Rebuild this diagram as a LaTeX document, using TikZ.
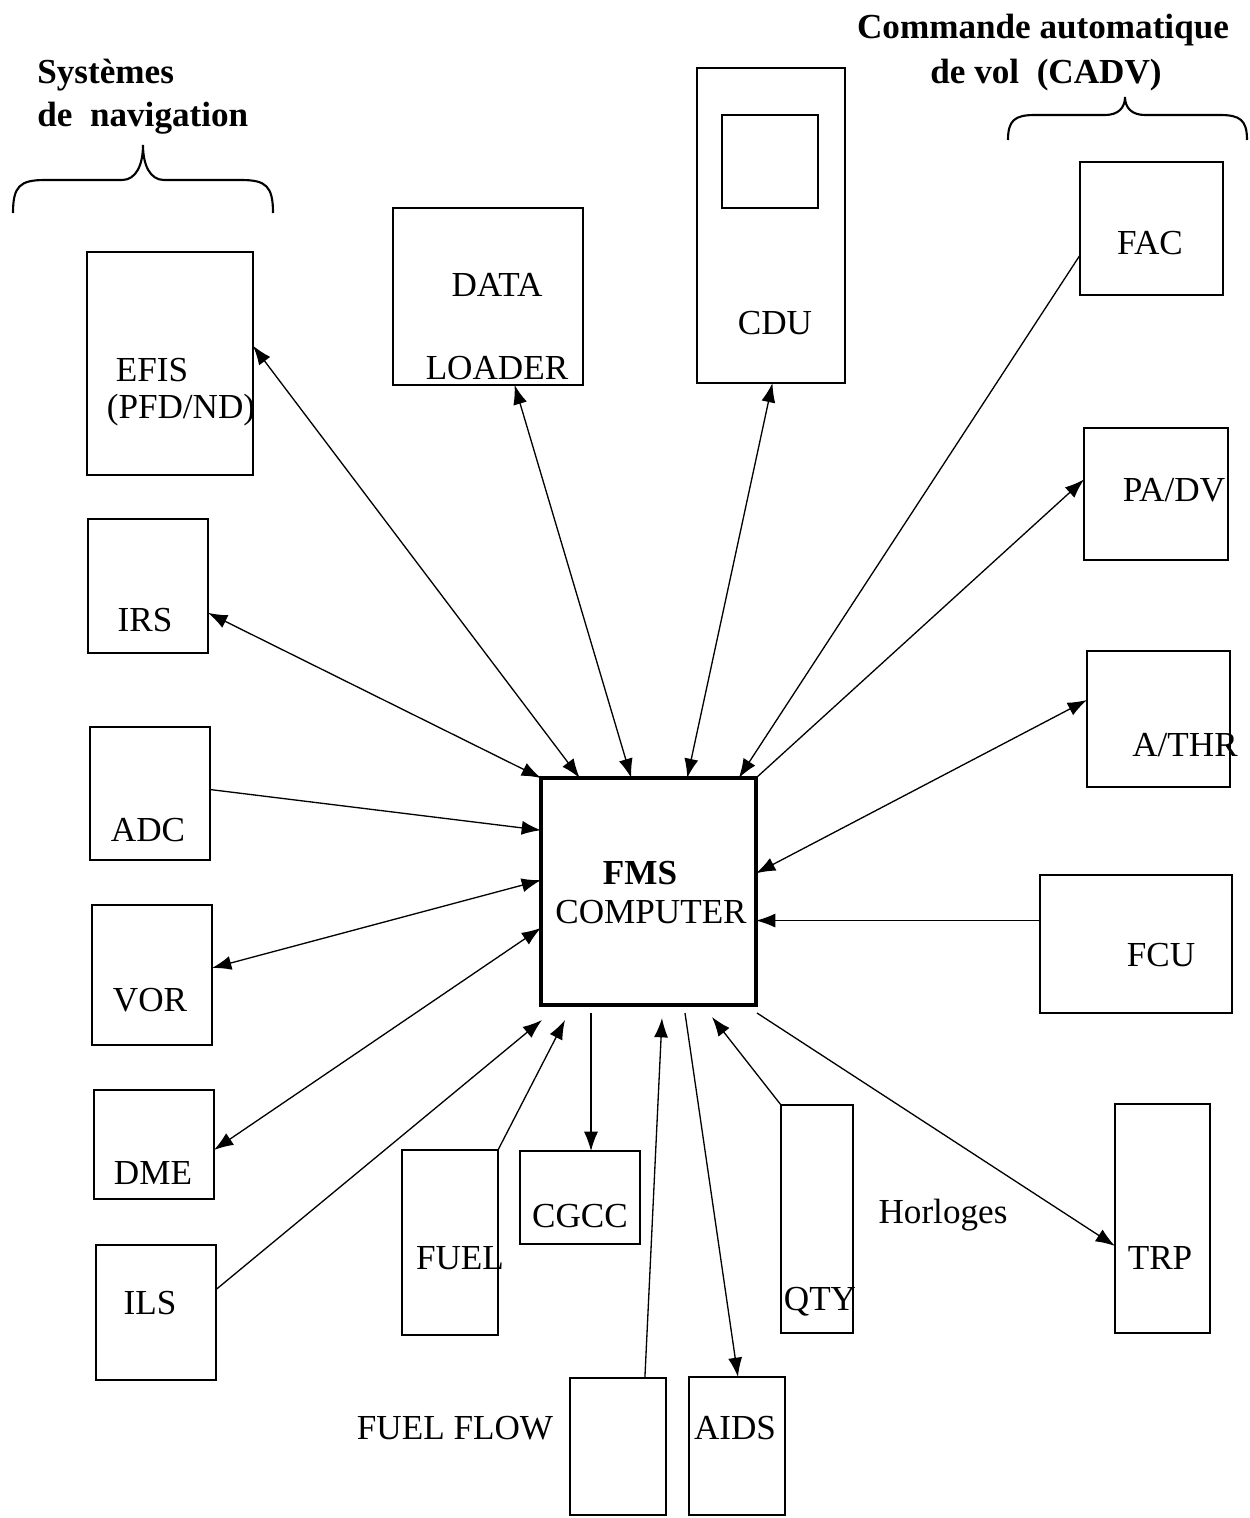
\documentclass[tikz,border=0pt]{standalone}
\usepackage{fontspec}
\setmainfont{Liberation Serif}
\usetikzlibrary{arrows.meta,calc}
\begin{document}
\begin{tikzpicture}[x=0.02cm,y=-0.02cm,
  box/.style={draw, line width=0.8pt, inner sep=0pt, outer sep=0pt},
  lbl/.style={inner sep=0pt, font=\fontsize{20}{24}\selectfont},
  hdr/.style={inner sep=0pt, font=\fontsize{20}{24}\selectfont\bfseries},
  conn/.style={line width=0.75pt},
  tip/.style={conn, -{Latex[length=11pt,width=8pt]}},
  dbl/.style={conn, {Latex[length=11pt,width=8pt]}-{Latex[length=11pt,width=8pt]}}]
\useasboundingbox (0,0) rectangle (1250,1518);

% headers and braces
\node[hdr, anchor=west] (h1) at (37,75) {Systèmes};
\node[hdr, anchor=west] (h2) at (37,118) {de\ \ navigation};
\draw[line width=1.2pt] (13,213) .. controls (13,186) and (20,180) .. (45,180) -- (122,180)
  .. controls (136,180) and (143,165) .. (143,145)
  .. controls (143,165) and (150,180) .. (164,180) -- (241,180)
  .. controls (266,180) and (273,186) .. (273,213);
\node[hdr] (h3) at (1043,30) {Commande automatique};
\node[hdr] (h4) at (1046,75) {de vol\ \ (CADV)};
\draw[line width=1.2pt] (1008,140) .. controls (1008,120) and (1015,115) .. (1035,115) -- (1105,115)
  .. controls (1118,115) and (1125,108) .. (1125,97)
  .. controls (1125,108) and (1132,115) .. (1145,115) -- (1220,115)
  .. controls (1240,115) and (1247,120) .. (1247,140);

% boxes
\node[box, minimum width=3.32cm, minimum height=4.46cm] (efis) at (170,363.5) {};
\node[box, minimum width=3.8cm, minimum height=3.54cm] (dl) at (488,296.5) {};
\node[box, minimum width=2.96cm, minimum height=6.3cm] (cdu) at (771,225.5) {};
\node[box, minimum width=1.92cm, minimum height=1.86cm] (cdus) at (770,161.5) {};
\node[box, minimum width=2.86cm, minimum height=2.66cm] (fac) at (1151.5,228.5) {};
\node[box, minimum width=2.88cm, minimum height=2.64cm] (padv) at (1156,494) {};
\node[box, minimum width=2.86cm, minimum height=2.72cm] (athr) at (1158.5,719) {};
\node[box, minimum width=3.84cm, minimum height=2.76cm] (fcu) at (1136,944) {};
\node[box, minimum width=1.9cm, minimum height=4.58cm] (trp) at (1162.5,1218.5) {};
\node[box, minimum width=2.4cm, minimum height=2.68cm] (irs) at (148,586) {};
\node[box, minimum width=2.4cm, minimum height=2.66cm] (adc) at (150,793.5) {};
\node[box, minimum width=2.4cm, minimum height=2.8cm] (vor) at (152,975) {};
\node[box, minimum width=2.4cm, minimum height=2.18cm] (dme) at (154,1144.5) {};
\node[box, minimum width=2.4cm, minimum height=2.7cm] (ils) at (156,1312.5) {};
\node[box, line width=1.8pt, minimum width=4.3cm, minimum height=4.54cm] (fms) at (648.5,891.5) {};
\node[box, minimum width=1.92cm, minimum height=3.7cm] (fuel) at (450,1242.5) {};
\node[box, minimum width=2.4cm, minimum height=1.86cm] (cgcc) at (580,1197.5) {};
\node[box, minimum width=1.44cm, minimum height=4.56cm] (qty) at (817,1219) {};
\node[box, minimum width=1.92cm, minimum height=2.74cm] (ff) at (618,1446.5) {};
\node[box, minimum width=1.92cm, minimum height=2.76cm] (aids) at (737,1446) {};

% labels
\node[lbl] (tefis) at (152,370) {EFIS};
\node[lbl] (tpfd) at (181,410) {(PFD/ND)};
\node[lbl] (tdata) at (497,285) {DATA};
\node[lbl] (tload) at (497,368) {LOADER};
\node[lbl] (tcdu) at (775,323) {CDU};
\node[lbl] (tfac) at (1150,243) {FAC};
\node[lbl] (tpadv) at (1174,490) {PA/DV};
\node[lbl] (tathr) at (1185,745) {A/THR};
\node[lbl] (tfcu) at (1161,955) {FCU};
\node[lbl] (ttrp) at (1160,1258) {TRP};
\node[lbl] (tirs) at (145,620) {IRS};
\node[lbl] (tadc) at (148,830) {ADC};
\node[lbl] (tvor) at (150,1000) {VOR};
\node[lbl] (tdme) at (153,1173) {DME};
\node[lbl] (tils) at (150,1303) {ILS};
\node[lbl, font=\fontsize{20}{24}\selectfont\bfseries] (tfms) at (640,873) {FMS};
\node[lbl] (tcomp) at (651,912) {COMPUTER};
\node[lbl] (tfuel) at (460,1258) {FUEL};
\node[lbl] (tcgcc) at (580,1216) {CGCC};
\node[lbl] (tqty) at (820,1302) {QTY};
\node[lbl] (tff) at (455,1428) {FUEL FLOW};
\node[lbl] (taids) at (735,1428) {AIDS};
\node[lbl] (thor) at (943,1215) {Horloges};

% free ends below the FMS computer
\coordinate (bILS) at (542,1020);
\coordinate (bFUEL) at (565,1020);
\coordinate (bCG) at (591,1013);
\coordinate (bFF) at (662,1018);
\coordinate (bAIDS) at (685,1013);
\coordinate (bQTY) at (712,1017);
\coordinate (bTRP) at (757,1013);
\coordinate (fcuA) at ($(fcu.north west)!0.33!(fcu.south west)$);

% connectors
\draw[dbl] ($(efis.north east)!0.42!(efis.south east)$) -- ($(fms.north west)!0.18!(fms.north east)$);
\draw[dbl] ($(dl.south west)!0.64!(dl.south east)$) -- ($(fms.north west)!0.42!(fms.north east)$);
\draw[dbl] ($(cdu.south west)!0.51!(cdu.south east)$) -- ($(fms.north west)!0.68!(fms.north east)$);
\draw[tip] ($(fac.north west)!0.70!(fac.south west)$) -- ($(fms.north west)!0.92!(fms.north east)$);
\draw[tip] (fms.north east) -- ($(padv.north west)!0.39!(padv.south west)$);
\draw[dbl] ($(athr.north west)!0.36!(athr.south west)$) -- ($(fms.north east)!0.42!(fms.south east)$);
\draw[tip] (fcuA) -- (fcuA -| fms.east);
\draw[dbl] ($(irs.north east)!0.70!(irs.south east)$) -- (fms.north west);
\draw[tip] ($(adc.north east)!0.47!(adc.south east)$) -- ($(fms.north west)!0.23!(fms.south west)$);
\draw[dbl] ($(vor.north east)!0.45!(vor.south east)$) -- ($(fms.north west)!0.45!(fms.south west)$);
\draw[dbl] ($(dme.north east)!0.55!(dme.south east)$) -- ($(fms.north west)!0.66!(fms.south west)$);
\draw[tip] ($(ils.north east)!0.33!(ils.south east)$) -- (bILS);
\draw[tip] (fuel.north east) -- (bFUEL);
\draw[tip] (bCG) -- (bCG |- cgcc.north);
\draw[tip] ($(ff.north west)!0.78!(ff.north east)$) -- (bFF);
\draw[tip] (bAIDS) -- ($(aids.north west)!0.51!(aids.north east)$);
\draw[tip] (qty.north west) -- (bQTY);
\draw[tip] (bTRP) -- ($(trp.north west)!0.62!(trp.south west)$);
\end{tikzpicture}
\end{document}
